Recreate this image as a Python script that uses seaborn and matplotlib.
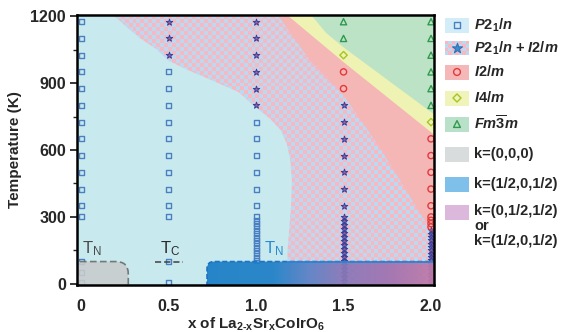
import numpy as np
import pandas as pd
import matplotlib
matplotlib.use("Agg")
import matplotlib.pyplot as plt
import seaborn as sns
from matplotlib.patches import Polygon, FancyBboxPatch, Rectangle
from matplotlib.colors import LinearSegmentedColormap, to_rgb

sns.set_style("ticks")
plt.rcParams['font.family'] = ['Liberation Sans', 'DejaVu Sans']
plt.rcParams['mathtext.fontset'] = 'custom'
plt.rcParams['mathtext.rm'] = 'Liberation Sans:bold'
plt.rcParams['mathtext.it'] = 'Liberation Sans:bold:italic'
plt.rcParams['mathtext.bf'] = 'Liberation Sans:bold'

# ---------------- data ----------------
x0_P21n = [1175, 1100, 1025, 950, 875, 800, 725, 650, 575, 500, 425, 350, 300, 100, 50, 5]
x05_mix = [1175, 1100, 1025]
x05_P21n = [950, 875, 800, 725, 650, 575, 500, 425, 350, 300, 100, 5]
x10_mix = [1175, 1100, 1025, 950, 875, 800]
x10_P21n = [725, 650, 575, 500, 425, 350, 300, 285, 270, 255, 240, 225, 210,
            195, 180, 165, 150, 135, 120, 105]
x15_Fm3m = [1175, 1100]
x15_I4m = [1025]
x15_I2m = [950, 875]
x15_mix = [800, 725, 650, 575, 500, 425, 350, 300, 282, 264, 246, 228, 210, 192,
           174, 156, 138, 120, 102, 84, 66, 48, 30, 12]
x20_Fm3m = [1175, 1100, 1025, 950, 875, 800]
x20_I4m = [725]
x20_I2m = [650, 575, 500, 425, 350, 300, 285, 270, 255]
x20_mix = [240, 225, 210, 195, 180, 165, 150, 135, 120, 105, 90, 75, 60, 45, 30, 15]

groups = [
    (0.0, 'P21n', x0_P21n), (0.5, 'mix', x05_mix), (0.5, 'P21n', x05_P21n),
    (1.0, 'mix', x10_mix), (1.0, 'P21n', x10_P21n),
    (1.5, 'Fm3m', x15_Fm3m), (1.5, 'I4m', x15_I4m), (1.5, 'I2m', x15_I2m), (1.5, 'mix', x15_mix),
    (2.0, 'Fm3m', x20_Fm3m), (2.0, 'I4m', x20_I4m), (2.0, 'I2m', x20_I2m), (2.0, 'mix', x20_mix),
]
rows = []
for xc, ph, temps in groups:
    for t in temps:
        rows.append((xc, t, ph))
df = pd.DataFrame(rows, columns=['x', 'T', 'phase'])

# phase boundaries (x, T)
bound_A_x = [0.177, 0.263, 0.337, 0.434, 0.50, 0.606, 0.754, 0.90, 1.00, 1.08, 1.14, 1.175, 1.195, 1.205, 1.20, 1.19, 1.18, 1.18]
bound_A_T = [1210, 1150, 1101, 1050, 1000, 960, 910, 860, 790, 740, 690, 630, 560, 460, 350, 250, 150, -10]
bound_B_x = [1.12, 1.30, 1.50, 1.70, 1.85, 1.95, 2.00, 2.10]
bound_B_T = [1210, 1010, 845, 620, 430, 300, 248, 240]
bound_C_x = [1.17, 1.50, 2.10]
bound_C_T = [1210, 994, 617]
bound_D_x = [1.31, 1.40, 1.50, 2.00, 2.10]
bound_D_T = [1210, 1125, 1060, 770, 712]

# styles
bg_cyan = '#c8e9ee'
check_pink = '#f6b9c4'
check_blue = '#bcd9ef'
pink_I2m = '#f5b6b6'
yellow_I4m = '#eef3b3'
green_Fm3m = '#bde3c6'
gray_k000 = '#c9cccd'

marker_style = {
    'P21n': dict(marker='s', s=13, facecolor='none', edgecolor='#4a7fc2', linewidth=1.0),
    'mix': dict(marker='*', s=24, facecolor='#b45c92', edgecolor='#33449e', linewidth=0.7),
    'I2m': dict(marker='o', s=20, facecolor='none', edgecolor='#e23a3a', linewidth=1.0),
    'I4m': dict(marker='D', s=14, facecolor='none', edgecolor='#a8c422', linewidth=1.0),
    'Fm3m': dict(marker='^', s=20, facecolor='none', edgecolor='#2f9a4e', linewidth=1.0),
}

# ---------------- figure ----------------
fig = plt.figure(figsize=(5.77, 3.32), dpi=100)
ax = fig.add_axes([77/577, 47/332, 357/577, 270/332])
ax.set_facecolor(bg_cyan)
XL, YL = (-0.023, 2.017), (-5, 1205)

# checker region (P21/n + I2/m)
nx, ny = 90, 68
ii, jj = np.indices((ny, nx))
mask = ((ii + jj) % 2 == 0)[..., None]
img = np.where(mask, np.array(to_rgb(check_pink)), np.array(to_rgb(check_blue)))
im = ax.imshow(img, extent=(XL[0], XL[1], YL[0], YL[1]), origin='lower',
               aspect='auto', interpolation='nearest', zorder=1)
polyA = Polygon(np.column_stack([bound_A_x + [2.1, 2.1], bound_A_T + [-10, 1210]]),
                closed=True, transform=ax.transData)
im.set_clip_path(polyA)

ax.add_patch(Polygon(np.column_stack([bound_B_x + [2.1], bound_B_T + [1210]]),
                     closed=True, facecolor=pink_I2m, edgecolor='none', zorder=2))
ax.add_patch(Polygon(np.column_stack([bound_C_x + [2.1], bound_C_T + [1210]]),
                     closed=True, facecolor=yellow_I4m, edgecolor='none', zorder=3))
ax.add_patch(Polygon(np.column_stack([bound_D_x + [2.1], bound_D_T + [1210]]),
                     closed=True, facecolor=green_Fm3m, edgecolor='none', zorder=4))

# markers
for ph, st in marker_style.items():
    sub = df[df['phase'] == ph]
    sns.scatterplot(data=sub, x='x', y='T', ax=ax, color=st['edgecolor'], zorder=5,
                    legend=False, **st)

# magnetic regions
asp = (YL[1] - YL[0]) / 270 / ((XL[1] - XL[0]) / 357)
gray_box = FancyBboxPatch((-0.3, -80), 0.57, 180, boxstyle="round,pad=0,rounding_size=0.07",
                          mutation_aspect=asp, facecolor=gray_k000, edgecolor='#6a6a6a',
                          linestyle=(0, (4, 2)), linewidth=1.2, alpha=0.88, zorder=6)
ax.add_patch(gray_box)

band_cmap = LinearSegmentedColormap.from_list('band', [
    (0.0, '#1a7ec6'), (0.30, '#1f80c8'), (0.45, '#5a82c6'), (0.60, '#8878b8'),
    (0.80, '#a072b0'), (1.0, '#c07aa8')])
grad = np.linspace(0, 1, 256)[None, :]
im2 = ax.imshow(grad, extent=(0.70, 2.02, YL[0], 100), cmap=band_cmap, aspect='auto',
                origin='lower', alpha=0.93, zorder=6)
band_clip = FancyBboxPatch((0.72, -80), 1.5, 180, boxstyle="round,pad=0,rounding_size=0.04",
                           mutation_aspect=asp, transform=ax.transData)
im2.set_clip_path(band_clip)
ax.add_patch(FancyBboxPatch((0.72, -80), 1.5, 180, boxstyle="round,pad=0,rounding_size=0.04",
                            mutation_aspect=asp, facecolor='none', edgecolor='#1c74c2',
                            linestyle=(0, (3, 1.5)), linewidth=1.2, zorder=6.5))
ax.plot([1.18, 2.02], [100, 100], color='#2a86d4', lw=1.3, zorder=6.6)
ax.plot([0.42, 0.58], [96, 96], color='#404040', lw=1.1, ls=(0, (4, 2)), zorder=6.6)

ax.text(0.06, 115, r'T$_\mathregular{N}$', color='#4a4a4a', fontsize=12, ha='center',
        va='bottom', zorder=7)
ax.text(0.51, 115, r'T$_\mathregular{C}$', color='#2a2a2a', fontsize=12, ha='center',
        va='bottom', zorder=7)
ax.text(1.10, 115, r'T$_\mathregular{N}$', color='#2a8ad2', fontsize=12, ha='center',
        va='bottom', zorder=7)

ax.set_xlim(*XL)
ax.set_ylim(*YL)
ax.set_xticks([0, 0.5, 1.0, 1.5, 2.0])
ax.set_xticklabels(['0', '0.5', '1.0', '1.5', '2.0'])
ax.set_yticks([0, 300, 600, 900, 1200])
ax.set_yticks([150, 450, 750, 1050], minor=True)
ax.tick_params(axis='x', length=0, pad=10, labelsize=11.5)
ax.tick_params(axis='y', which='major', length=5, width=1.3, labelsize=11.5, pad=3)
ax.tick_params(axis='y', which='minor', length=3, width=1.0)
for lab in ax.get_xticklabels() + ax.get_yticklabels():
    lab.set_fontweight('bold')
for sp in ax.spines.values():
    sp.set_linewidth(1.8)
    sp.set_color('black')
    sp.set_zorder(10)
ax.set_xlabel(r'x of La$_\mathregular{2\text{-}x}$Sr$_\mathregular{x}$CoIrO$_\mathregular{6}$',
              fontsize=11, fontweight='bold', labelpad=1)
ax.set_ylabel('Temperature (K)', fontsize=11, fontweight='bold', labelpad=6)

# ---------------- legend ----------------
leg_labels = [r'$\mathit{P2_1/n}$', r'$\mathit{P2_1/n}$ + $\mathit{I2/m}$', r'$\mathit{I2/m}$',
              r'$\mathit{I4/m}$', r'$\mathit{Fm\overline{3}m}$', 'k=(0,0,0)', 'k=(1/2,0,1/2)',
              'k=(0,1/2,1/2)\nor\nk=(1/2,0,1/2)']
leg_colors = ['#d3edf8', None, '#f5b8b8', '#f0f4bb', '#b9e0c9', '#d9dcdd', '#7ec0ea', '#dcb9dc']
leg_markers = ['P21n', 'mix', 'I2m', 'I4m', 'Fm3m', None, None, None]
leg_rows = [25, 48, 72, 98, 124, 154, 184, 212]

lax = fig.add_axes([440/577, 0, 137/577, 1])
lax.set_xlim(0, 137)
lax.set_ylim(332, 0)
lax.axis('off')
for lab, col, mk, yc in zip(leg_labels, leg_colors, leg_markers, leg_rows):
    if col is None:
        small = np.where(((np.indices((4, 7)).sum(0)) % 2 == 0)[..., None],
                         np.array(to_rgb(check_pink)), np.array(to_rgb(check_blue)))
        lax.imshow(small, extent=(5, 29, yc + 7, yc - 7), aspect='auto',
                   interpolation='nearest', zorder=1)
    else:
        lax.add_patch(Rectangle((5, yc - 7.5), 24, 15, facecolor=col, edgecolor='none', zorder=1))
    if mk is not None:
        st = dict(marker_style[mk])
        if mk == 'mix':
            st.update(facecolor='#3a8ccc', edgecolor='#2a70b8', s=60)
        else:
            st['s'] = st['s'] * 1.2
        lax.scatter([17], [yc], zorder=2, **st)
    if '\n' in lab:
        lax.text(34, yc - 7.5, lab, fontsize=10.5, fontweight='bold', va='top', ha='left',
                 linespacing=1.05)
    else:
        lax.text(34, yc, lab, fontsize=10.5, fontweight='bold', va='center', ha='left')
lax.set_xlim(0, 137)
lax.set_ylim(332, 0)

fig.savefig('out.png', dpi=100)
